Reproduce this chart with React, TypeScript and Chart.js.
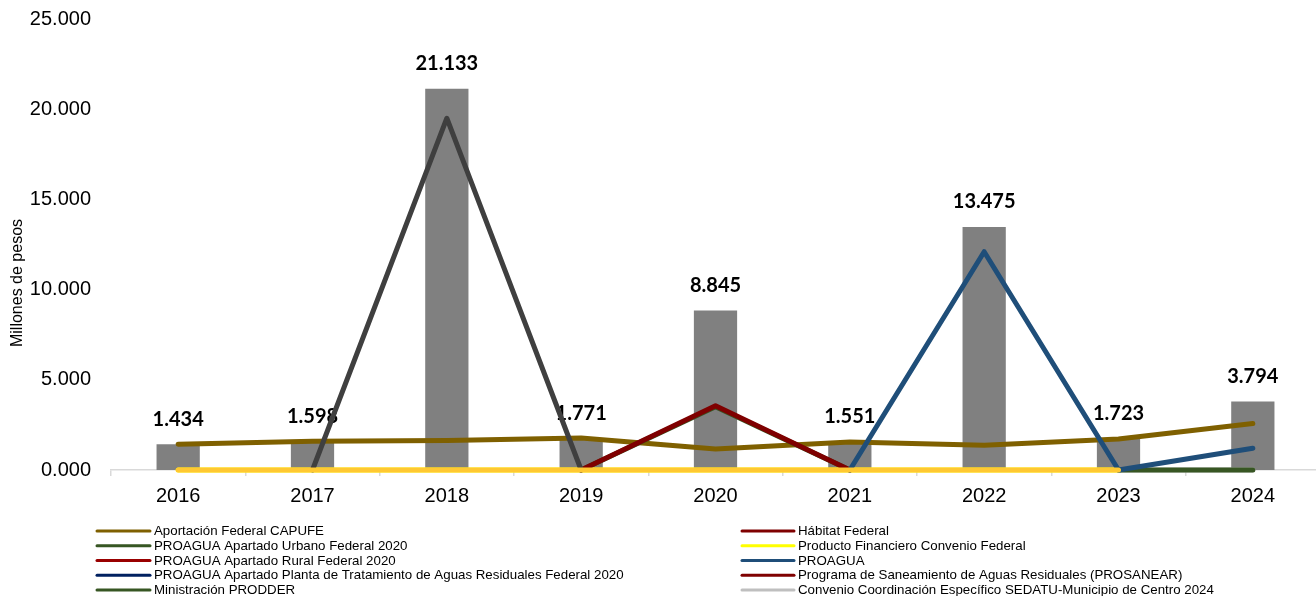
import React, { useEffect, useRef } from 'react';
import { Chart, registerables } from 'chart.js';

Chart.register(...registerables);

// ---------- data ----------
const years = ['2016', '2017', '2018', '2019', '2020', '2021', '2022', '2023', '2024'];
const totals = [1.434, 1.598, 21.133, 1.771, 8.845, 1.551, 13.475, 1.723, 3.794];

const aportacionCapufe = [1.434, 1.598, 1.633, 1.771, 1.17, 1.551, 1.375, 1.723, 2.58];
const habitatFederal = [null, null, null, null, null, null, null, null, null];
const proaguaUrbano2020 = [null, null, null, 0, 3.5, 0, null, null, null];
const productoFinanciero = [0, 0, 0, 0, 0, 0, 0, 0, null];
const proaguaRural2020 = [null, null, null, 0, 3.56, 0, null, null, null];
const proagua = [null, null, null, null, null, 0, 12.1, 0, 1.21];
const proaguaPtar2020 = [null, null, null, null, null, null, null, null, null];
const prosanear = [null, null, null, null, null, null, null, null, null];
const ministracionProdder = [null, null, null, null, null, null, null, 0, 0];
const convenioSedatu = [null, null, null, null, null, null, null, 0, 0];
// series drawn in the plot but not listed in the visible legend
const unlistedGray = [null, 0, 19.5, 0, null, null, null, null, null];
const unlistedGold = [0, 0, 0, 0, 0, 0, 0, 0, null];

const yTicksMax = 25;
const yTicksStep = 5;

type Series = { label: string; data: (number | null)[]; color: string; legendColor: string; order: number; legend: boolean };

const series: Series[] = [
  { label: 'Aportación Federal CAPUFE', data: aportacionCapufe, color: '#7F6000', legendColor: '#7F6000', order: 6, legend: true },
  { label: 'Hábitat Federal', data: habitatFederal, color: '#7F0000', legendColor: '#7F0000', order: 4, legend: true },
  { label: 'PROAGUA Apartado Urbano Federal 2020', data: proaguaUrbano2020, color: '#375623', legendColor: '#375623', order: 3, legend: true },
  { label: 'Producto Financiero Convenio Federal', data: productoFinanciero, color: '#FFFF00', legendColor: '#FFFF00', order: 5, legend: true },
  { label: 'PROAGUA Apartado Rural Federal 2020', data: proaguaRural2020, color: '#7F0000', legendColor: '#990000', order: 2, legend: true },
  { label: 'PROAGUA', data: proagua, color: '#1F4E79', legendColor: '#1F4E79', order: 1, legend: true },
  { label: 'PROAGUA Apartado Planta de Tratamiento de Aguas Residuales Federal 2020', data: proaguaPtar2020, color: '#002060', legendColor: '#002060', order: 4, legend: true },
  { label: 'Programa de Saneamiento de Aguas Residuales (PROSANEAR)', data: prosanear, color: '#7F0000', legendColor: '#7F0000', order: 4, legend: true },
  { label: 'Ministración PRODDER', data: ministracionProdder, color: '#375623', legendColor: '#375623', order: 3, legend: true },
  { label: 'Convenio Coordinación Específico SEDATU-Municipio de Centro 2024', data: convenioSedatu, color: '#BFBFBF', legendColor: '#BFBFBF', order: 5, legend: true },
  { label: 'serie-gris', data: unlistedGray, color: '#3F3F3F', legendColor: '#3F3F3F', order: 1, legend: false },
  { label: 'serie-dorada', data: unlistedGold, color: '#FFC832', legendColor: '#FFC832', order: 0, legend: false },
];

const FONT = '"Liberation Sans", Arial, sans-serif';

const extrasPlugin = {
  id: 'extras',
  afterDatasetDraw(chart: any, args: any) {
    if (args.index !== 0) return;
    const ctx = chart.ctx;
    const meta = chart.getDatasetMeta(0);
    ctx.save();
    ctx.font = 'bold 20px Lato, "Open Sans", sans-serif';
    ctx.fillStyle = '#000';
    ctx.textAlign = 'center';
    ctx.textBaseline = 'middle';
    meta.data.forEach((el: any, i: number) => {
      ctx.fillText(totals[i].toFixed(3), el.x, el.y - 25);
    });
    ctx.restore();
  },
  afterDraw(chart: any) {
    const ctx = chart.ctx;
    ctx.save();
    // y-axis title
    ctx.translate(18, 283);
    ctx.rotate(-Math.PI / 2);
    ctx.font = '16px ' + FONT;
    ctx.fillStyle = '#000';
    ctx.textAlign = 'center';
    ctx.textBaseline = 'middle';
    ctx.fillText('Millones de pesos', 0, 0);
    ctx.restore();

    // legend in two columns
    const items = series.filter((s) => s.legend);
    ctx.save();
    ctx.font = '13.3px ' + FONT;
    ctx.textBaseline = 'middle';
    ctx.textAlign = 'left';
    ctx.lineCap = 'round';
    ctx.lineWidth = 3;
    const cols = [
      { x0: 97, x1: 150, tx: 154 },
      { x0: 742, x1: 794, tx: 798 },
    ];
    items.forEach((s, i) => {
      const c = cols[i % 2];
      const y = 531 + Math.floor(i / 2) * 14.75;
      ctx.strokeStyle = s.legendColor;
      ctx.beginPath();
      ctx.moveTo(c.x0, y);
      ctx.lineTo(c.x1, y);
      ctx.stroke();
      ctx.fillStyle = '#000';
      ctx.fillText(s.label, c.tx, y + 0.5);
    });
    ctx.restore();
  },
};

export default function App() {
  const ref = useRef<HTMLCanvasElement | null>(null);

  useEffect(() => {
    if (!ref.current) return;
    const lineSets = series.map((s) => ({
      type: 'line' as const,
      label: s.label,
      data: s.data,
      borderColor: s.color,
      backgroundColor: s.color,
      borderWidth: 5,
      borderCapStyle: 'round' as const,
      borderJoinStyle: 'round' as const,
      pointRadius: 0,
      tension: 0,
      fill: false,
      spanGaps: false,
      clip: false,
      order: s.order,
    }));
    const chart = new Chart(ref.current, {
      data: {
        labels: years,
        datasets: [
          {
            type: 'bar' as const,
            label: 'Total',
            data: totals,
            backgroundColor: '#808080',
            barPercentage: 0.322,
            categoryPercentage: 1,
            order: 20,
          },
          ...lineSets,
        ] as any,
      },
      options: {
        animation: false,
        responsive: false,
        devicePixelRatio: 1,
        layout: { padding: { top: 19, right: 4, bottom: 80, left: 0 } },
        plugins: { legend: { display: false }, tooltip: { enabled: false } },
        scales: {
          x: {
            offset: true,
            grid: { display: true, drawOnChartArea: false, drawTicks: true, tickLength: 6, color: '#D9D9D9', lineWidth: 1.5, offset: true },
            border: { display: true, color: '#D9D9D9', width: 1.5 },
            ticks: { color: '#000', font: { family: FONT, size: 20 }, padding: 8, maxRotation: 0 },
          },
          y: {
            min: 0,
            max: yTicksMax,
            grid: { display: false, drawTicks: false },
            border: { display: false },
            ticks: {
              stepSize: yTicksStep,
              color: '#000',
              font: { family: FONT, size: 20 },
              padding: 20,
              callback: (v: any) => Number(v).toFixed(3),
            },
            afterFit: (s: any) => {
              s.width = 111;
              s.paddingTop = 0;
              s.paddingBottom = 0;
            },
          },
        },
      } as any,
      plugins: [extrasPlugin],
    });
    return () => chart.destroy();
  }, []);

  return (
    <div style={{ position: 'fixed', left: 0, top: 0, width: 1316, height: 596, overflow: 'hidden', background: '#fff' }}>
      <canvas ref={ref} width={1324} height={596} style={{ display: 'block', width: 1324, height: 596 }} />
    </div>
  );
}
